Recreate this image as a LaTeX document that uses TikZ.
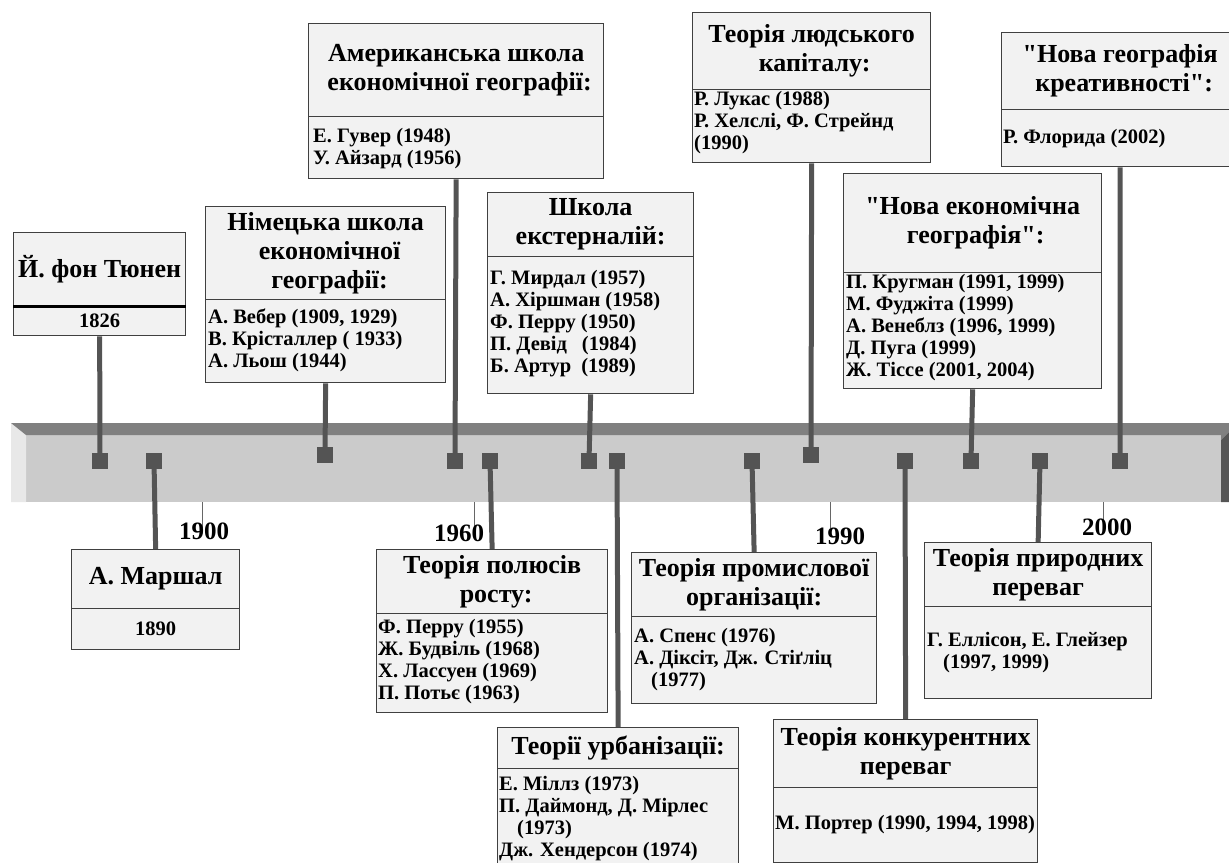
\documentclass[tikz,border=0pt]{standalone}
\usepackage{fontspec}
\setmainfont{Liberation Serif}
\newcommand\ttlfont{\fontsize{26bp}{29bp}\selectfont\bfseries}
\newcommand\itmfont{\fontsize{20.5bp}{22bp}\selectfont\bfseries}
\newcommand\yrfont{\fontsize{25bp}{25bp}\selectfont\bfseries}
\newcommand\dq{{\XeTeXglyph\XeTeXcharglyph"22\relax}}
\definecolor{boxfill}{HTML}{F2F2F2}
\definecolor{edge}{HTML}{404040}
\definecolor{stem}{HTML}{545454}
\definecolor{bartop}{HTML}{808080}
\definecolor{barfront}{HTML}{CBCBCB}
\definecolor{barleft}{HTML}{E8E8E8}
\definecolor{barright}{HTML}{555555}
\definecolor{tickc}{HTML}{666666}
\pgfdeclarelayer{bg}
\pgfdeclarelayer{cn}
\pgfsetlayers{bg,cn,main}
\tikzset{
  hd/.style={draw=edge, fill=boxfill, line width=1.3bp, inner sep=0pt, anchor=north west, align=center, font=\ttlfont},
  bd/.style={draw=edge, fill=boxfill, line width=1.3bp, inner sep=0pt, anchor=north west},
  itm/.style={anchor=west, inner sep=0pt, align=left, font=\itmfont},
  conn/.style={draw=stem, line width=5bp},
  mk/.style={fill=stem, minimum size=16bp, inner sep=0pt},
  yr/.style={font=\yrfont, inner sep=0pt},
  tickline/.style={draw=tickc, line width=1bp},
}
\begin{document}
\begin{tikzpicture}[x=1bp,y=-1bp]
\useasboundingbox (0,0) rectangle (1229,863);
\clip (0,0) rectangle (1229,863);

% ---- time bar ----
\begin{pgfonlayer}{bg}
\fill[barfront] (26,435) rectangle (1221,502);
\fill[barleft] (11,423) -- (26,435) -- (26,502) -- (11,502) -- cycle;
\fill[bartop] (11,423) -- (1229,423) -- (1229,432) -- (1221,440) -- (1221,435) -- (26,435) -- cycle;
\fill[barright] (1221,440) -- (1229,432) -- (1229,502) -- (1221,502) -- cycle;
\draw[tickline] (202,502) -- (202,528);
\draw[tickline] (474,502) -- (474,530);
\draw[tickline] (830,502) -- (830,528);
\draw[tickline] (1103,502) -- (1103,520);
\end{pgfonlayer}

\node[yr] (y1900) at (204,531) {1900};
\node[yr] (y1960) at (459,533) {1960};
\node[yr] (y1990) at (840,536) {1990};
\node[yr] (y2000) at (1107,527) {2000};

% ---- upper boxes ----
\node[hd, minimum width=172bp, minimum height=73bp] (h1) at (13,232) {Й. фон Тюнен};
\node[bd, minimum width=172bp, minimum height=30bp] (b1) at (13,305) {};
\draw[line width=3bp] (h1.south west) -- (h1.south east);
\node[itm, anchor=center] (t1) at (b1.center) {1826};

\node[hd, minimum width=240bp, minimum height=93bp] (h2) at (205,206) {Німецька школа\\\hspace*{8bp}економічної\\\hspace*{8bp}географії:};
\node[bd, minimum width=240bp, minimum height=83bp] (b2) at (205,299) {};
\node[itm] (t2) at (208,340) {А. Вебер (1909, 1929)\\В. Крісталлер ( 1933)\\А. Льош (1944)};

\node[hd, minimum width=295bp, minimum height=93bp] (h3) at (308,23) {Американська школа\\\hspace*{7bp}економічної географії:};
\node[bd, minimum width=295bp, minimum height=62bp] (b3) at (308,116) {};
\node[itm] (t3) at (313,148.5) {Е. Гувер (1948)\\У. Айзард (1956)};

\node[hd, minimum width=206bp, minimum height=64bp] (h4) at (487,192) {Школа\\екстерналій:};
\node[bd, minimum width=206bp, minimum height=137bp] (b4) at (487,256) {};
\node[itm] (t4) at (490,324) {Г. Мирдал (1957)\\А. Хіршман (1958)\\Ф. Перру (1950)\\П. Девід\hspace{15bp}(1984)\\Б. Артур\hspace{10bp}(1989)};

\node[hd, minimum width=238bp, minimum height=77bp] (h5) at (692,12) {Теорія людського\\\hspace*{6bp}капіталу:};
\node[bd, minimum width=238bp, minimum height=73bp] (b5) at (692,89) {};
\node[itm] (t5) at (694,123) {Р. Лукас (1988)\\Р. Хелслі, Ф. Стрейнд\\(1990)};

\node[hd, minimum width=237bp, minimum height=77bp] (h6) at (1001,32) {\dq Нова географія\\\hspace*{8bp}креативності\dq:};
\node[bd, minimum width=237bp, minimum height=57bp] (b6) at (1001,109) {};
\node[itm] (t6) at (1003,139) {Р. Флорида (2002)};

\node[hd, minimum width=258bp, minimum height=99bp] (h7) at (843,173) {\dq Нова економічна\\\hspace*{6bp}географія\dq:};
\node[bd, minimum width=258bp, minimum height=116bp] (b7) at (843,272) {};
\node[itm] (t7) at (846,328) {П. Кругман (1991, 1999)\\М. Фуджіта (1999)\\А. Венеблз (1996, 1999)\\Д. Пуга (1999)\\Ж. Тіссе (2001, 2004)};

% ---- lower boxes ----
\node[hd, minimum width=168bp, minimum height=59bp] (h8) at (71,549) {А. Маршал};
\node[bd, minimum width=168bp, minimum height=41bp] (b8) at (71,608) {};
\node[itm, anchor=center] (t8) at (b8.center) {1890};

\node[hd, minimum width=231bp, minimum height=64bp] (h9) at (376,549) {Теорія полюсів\\\hspace*{8bp}росту:};
\node[bd, minimum width=231bp, minimum height=99bp] (b9) at (376,613) {};
\node[itm] (t9) at (378,662) {Ф. Перру (1955)\\Ж. Будвіль (1968)\\Х. Лассуен (1969)\\П. Потьє (1963)};

\node[hd, minimum width=245bp, minimum height=64bp] (h10) at (631,552) {Теорія промислової\\організації:};
\node[bd, minimum width=245bp, minimum height=87bp] (b10) at (631,616) {};
\node[itm] (t10) at (634,660) {А. Спенс (1976)\\А. Діксіт,\hspace{5bp}Дж. Стіґліц\\\hspace*{17bp}(1977)};

\node[hd, minimum width=241bp, minimum height=41bp] (h11) at (497,727) {Теорії урбанізації:};
\node[bd, minimum width=241bp, minimum height=110bp] (b11) at (497,768) {};
\node[itm] (t11) at (499,818.5) {Е. Міллз (1973)\\П. Даймонд, Д. Мірлес\\\hspace*{18bp}(1973)\\Дж. Хендерсон (1974)};

\node[hd, minimum width=264bp, minimum height=68bp] (h12) at (773,719) {Теорія конкурентних\\переваг};
\node[bd, minimum width=264bp, minimum height=75bp] (b12) at (773,787) {};
\node[itm] (t12) at (775,825) {М. Портер (1990, 1994, 1998)};

\node[hd, minimum width=227bp, minimum height=64bp] (h13) at (924,542) {Теорія природних\\переваг};
\node[bd, minimum width=227bp, minimum height=92bp] (b13) at (924,606) {};
\node[itm] (t13) at (927,652.5) {Г. Еллісон, Е. Глейзер\\\hspace*{16bp}(1997, 1999)};

% ---- markers ----
\node[mk] (m1) at (100,461) {};
\node[mk] (m2) at (325,455) {};
\node[mk] (m3) at (455,461) {};
\node[mk] (m4) at (589,461) {};
\node[mk] (m5) at (811,455) {};
\node[mk] (m6) at (1120,461) {};
\node[mk] (m7) at (971,461) {};
\node[mk] (m8) at (154,461) {};
\node[mk] (m9) at (490,461) {};
\node[mk] (m10) at (752,461) {};
\node[mk] (m11) at (617,461) {};
\node[mk] (m12) at (905,461) {};
\node[mk] (m13) at (1040,461) {};

% ---- connectors ----
\begin{pgfonlayer}{cn}
\draw[conn] (m1.center) -- (b1.south);
\draw[conn] (m2.center) -- (b2.south);
\draw[conn] (m3.center) -- (b3.south);
\draw[conn] (m4.center) -- (b4.south);
\draw[conn] (m5.center) -- (b5.south);
\draw[conn] (m6.center) -- (b6.south);
\draw[conn] (m7.center) -- (b7.south);
\draw[conn] (m8.center) -- (h8.north);
\draw[conn] (m9.center) -- (h9.north);
\draw[conn] (m10.center) -- (h10.north);
\draw[conn] (m11.center) -- (h11.north);
\draw[conn] (m12.center) -- (h12.north);
\draw[conn] (m13.center) -- (h13.north);
\end{pgfonlayer}
\end{tikzpicture}
\end{document}
